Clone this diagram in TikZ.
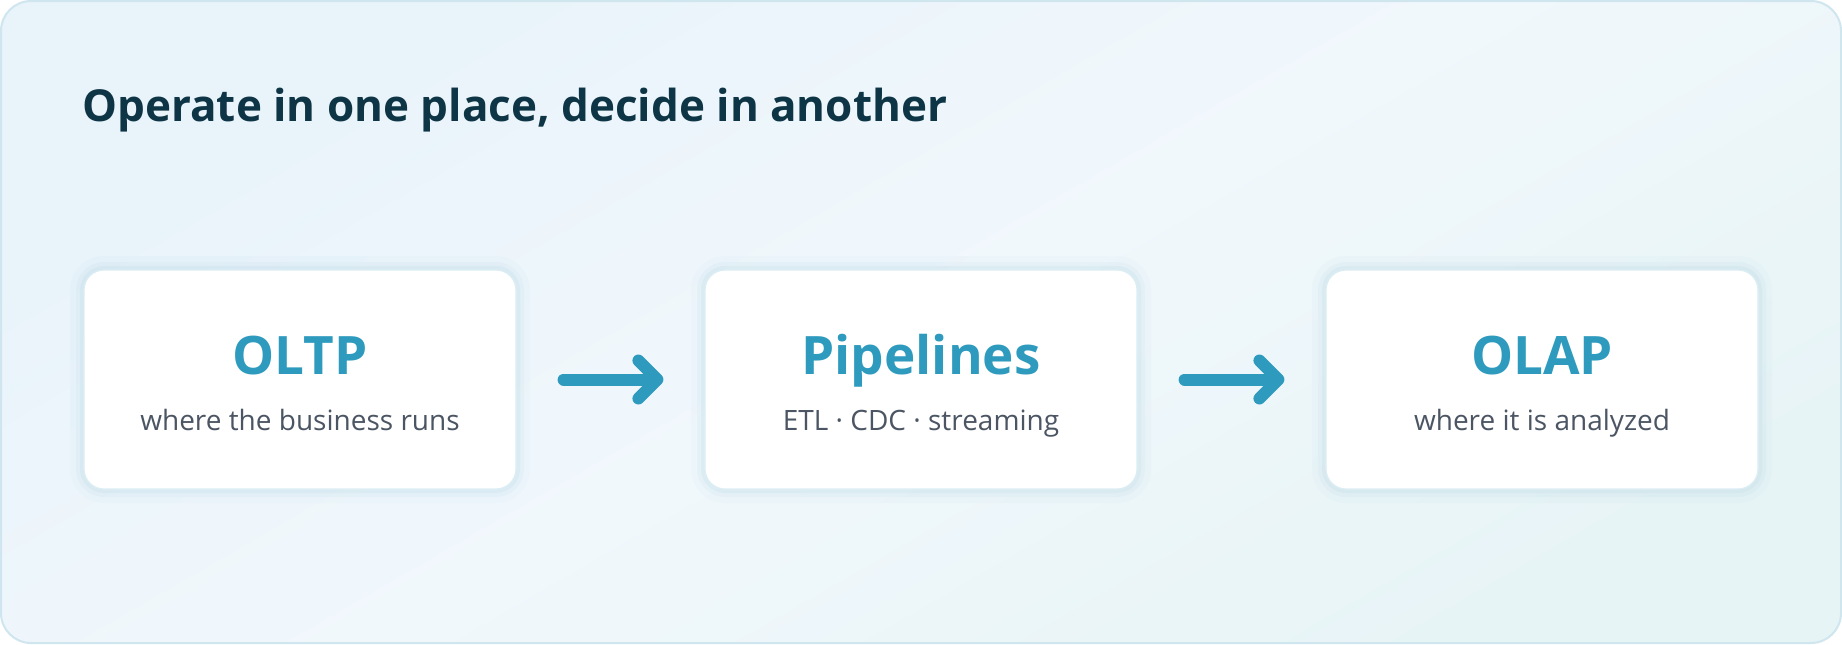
\documentclass[tikz,border=0pt]{standalone}
\usepackage{fontspec}
\setmainfont{Open Sans}
\usepackage{xcolor}
\usetikzlibrary{arrows.meta}
\definecolor{titlecol}{HTML}{0E3545}
\definecolor{accent}{HTML}{2E9BBE}
\definecolor{subgrey}{HTML}{4B5563}
\definecolor{bgtop}{HTML}{E8F3FA}
\definecolor{bgbot}{HTML}{E7F4F6}
\definecolor{frame}{HTML}{CFE6EF}
\definecolor{boxline}{HTML}{DCEEF4}
\definecolor{glow}{HTML}{9CC9DA}

\begin{document}
\begin{tikzpicture}[x=0.5pt, y=-0.5pt,
  panel/.style={rounded corners=15pt, draw=frame, line width=1pt,
                top color=bgtop, bottom color=bgbot, middle color=bgtop!60!white, shading angle=30},
  box/.style={rectangle, rounded corners=10pt, draw=boxline, line width=0.6pt, fill=white,
              minimum width=216pt, minimum height=109.5pt, inner sep=0pt,
              preaction={draw=glow, draw opacity=0.06, line width=14pt},
              preaction={draw=glow, draw opacity=0.08, line width=8pt},
              preaction={draw=glow, draw opacity=0.12, line width=4pt}},
  heading/.style={anchor=base west, inner sep=0pt, font=\fontsize{22}{26}\selectfont\bfseries, text=titlecol},
  head/.style={anchor=base, font=\fontsize{26.5}{30}\selectfont\bfseries, text=accent},
  sub/.style={anchor=base, font=\fontsize{14}{16}\selectfont, text=subgrey},
  arr/.style={-{Straight Barb[round, length=9.5pt, width=19pt]}, line width=6pt, line cap=round,
              accent, shorten <=23.5pt, shorten >=20.5pt}
]
\useasboundingbox (0,0) rectangle (1842,644);
\fill[white] (0,0) rectangle (1842,644);
\path[panel] (1,1) rectangle (1841,643);

\node[heading] (title) at (82,121) {Operate in one place, decide in another};

\node[box] (oltp) at (300,379.5)  {};
\node[box] (pipe) at (921,379.5)  {};
\node[box] (olap) at (1542,379.5) {};

\node[head] (oltp-h) at (300,374)  {OLTP};
\node[sub]  (oltp-s) at (300,430)  {where the business runs};
\node[head] (pipe-h) at (921,374)  {Pipelines};
\node[sub]  (pipe-s) at (921,430)  {ETL · CDC · streaming};
\node[head] (olap-h) at (1542,374) {OLAP};
\node[sub]  (olap-s) at (1542,430) {where it is analyzed};

\draw[arr] (oltp) -- (pipe);
\draw[arr] (pipe) -- (olap);
\end{tikzpicture}
\end{document}
